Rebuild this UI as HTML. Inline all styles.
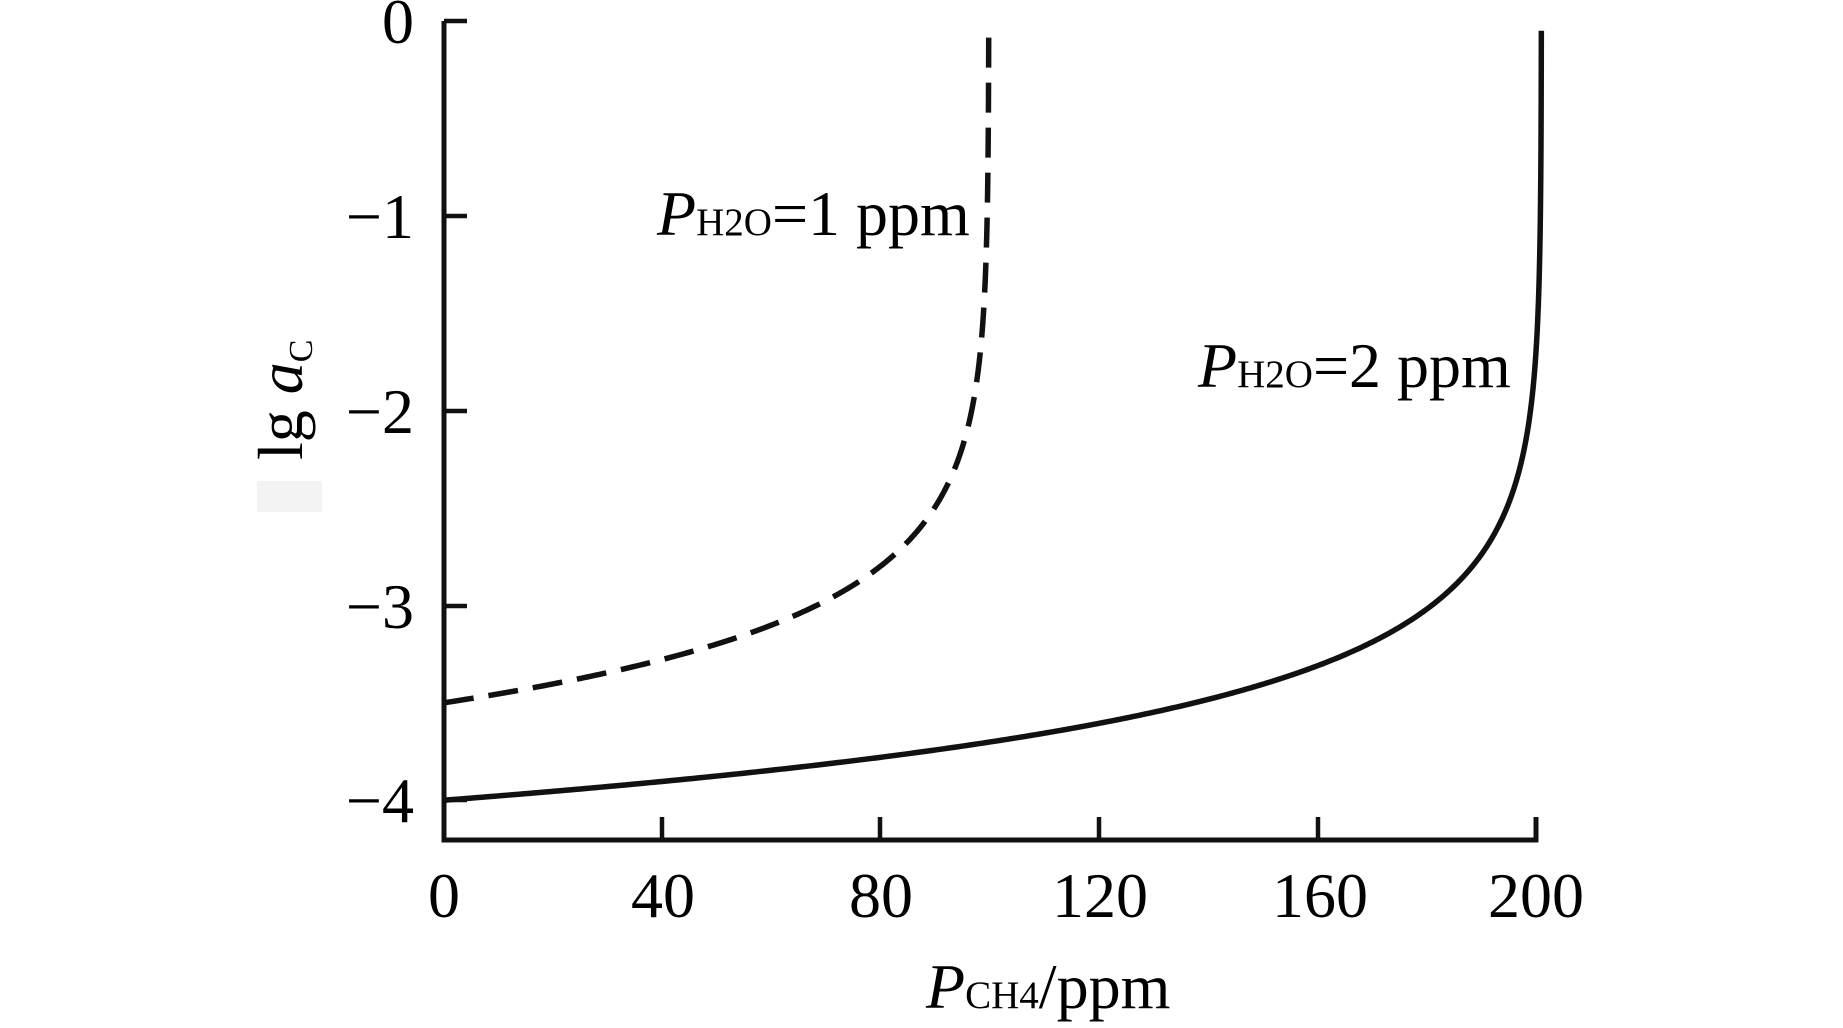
<!DOCTYPE html>
<html><head><meta charset="utf-8"><style>
html,body{margin:0;padding:0;background:#fff;}
svg{display:block;}
text{font-family:"Liberation Serif",serif;fill:#000;}
</style></head><body>
<svg id="s" width="1843" height="1028" viewBox="0 0 1843 1028">
<rect x="257" y="481" width="65" height="31" fill="#f3f3f3"/>
<path d="M444 21 V840 H1536 V817" fill="none" stroke="#111" stroke-width="5"/>
<g stroke="#111" stroke-width="4.5">
<line x1="444" y1="21" x2="467" y2="21"/>
<line x1="444" y1="216" x2="467" y2="216"/>
<line x1="444" y1="411" x2="467" y2="411"/>
<line x1="444" y1="606" x2="467" y2="606"/>
<line x1="444" y1="800" x2="467" y2="800"/>
<line x1="662" y1="840" x2="662" y2="817"/>
<line x1="880" y1="840" x2="880" y2="817"/>
<line x1="1099" y1="840" x2="1099" y2="817"/>
<line x1="1318" y1="840" x2="1318" y2="817"/>
</g>
<g font-size="64" text-anchor="end">
<text x="414" y="43">0</text>
<text x="414" y="238">−1</text>
<text x="414" y="433">−2</text>
<text x="414" y="628">−3</text>
<text x="414" y="822">−4</text>
</g>
<g font-size="64" text-anchor="middle">
<text x="444" y="917">0</text>
<text x="663" y="917">40</text>
<text x="881" y="917">80</text>
<text x="1100" y="917">120</text>
<text x="1320" y="917">160</text>
<text x="1536" y="917">200</text>
</g>
<text x="926" y="1008" font-size="64"><tspan font-style="italic">P</tspan><tspan font-size="39">CH4</tspan>/ppm</text>
<text transform="translate(302,460) rotate(-90)" font-size="64">lg <tspan font-style="italic">a</tspan><tspan font-size="34" dy="10">C</tspan></text>
<text x="657" y="235" font-size="64"><tspan font-style="italic">P</tspan><tspan font-size="39">H2O</tspan>=1 ppm</text>
<text x="1198" y="387" font-size="64"><tspan font-style="italic">P</tspan><tspan font-size="39">H2O</tspan>=2 ppm</text>
<path id="d" fill="none" stroke="#111" stroke-width="5.5" stroke-dasharray="30 15"/>
<path id="l" fill="none" stroke="#111" stroke-width="5.5"/>
</svg>
<script>
function mk(y0,a){var p=[],n=600;for(var i=0;i<=n;i++){var t=1-Math.pow(1-i/n,3);var x=a*t;var v=y0-Math.log10(1-x/a);if(v>-0.05)break;p.push((444+x*5.46).toFixed(2)+','+(21-v*194.8).toFixed(2));}
var xt=a*(1-Math.pow(10,y0+0.05));p.push((444+xt*5.46).toFixed(2)+','+(21+0.05*194.8).toFixed(2));return 'M'+p.join(' L');}
document.getElementById('d').setAttribute('d',mk(-3.5,99.8));
document.getElementById('l').setAttribute('d',mk(-4,201));
</script>
</body></html>
